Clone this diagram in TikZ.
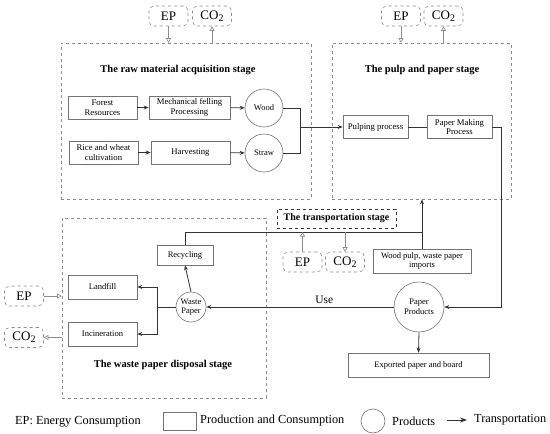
\documentclass[tikz,border=0pt]{standalone}
\usepackage{fontspec}
\setmainfont{Liberation Serif}
\usetikzlibrary{arrows.meta}
\definecolor{dgray}{gray}{0.55}
\definecolor{bgray}{gray}{0.45}
\definecolor{lcol}{gray}{0.2}
\newcommand{\cotwo}{CO{\raisebox{-0.3ex}{\fontsize{10}{10}\selectfont 2}}}
\tikzset{
  stagebox/.style={draw=dgray, dashed, line width=0.6pt, inner sep=0pt},
  proc/.style={draw=bgray, line width=0.6pt, align=center, inner sep=1pt, font=\fontsize{8.7}{9.6}\selectfont},
  sproc/.style={proc, font=\fontsize{8.5}{9.6}\selectfont},
  prod/.style={draw=bgray, line width=0.6pt, circle, align=center, inner sep=0pt, font=\fontsize{8.5}{9.6}\selectfont},
  emis/.style={draw=dgray, dashed, rounded corners=5pt, line width=0.6pt, minimum width=39pt, minimum height=20pt, inner sep=0pt, font=\fontsize{13}{14}\selectfont},
  title/.style={font=\bfseries\fontsize{10.5}{12}\selectfont},
  conn/.style={draw=lcol, line width=0.8pt},
  arr/.style={conn, -{Stealth[length=5pt,width=4pt]}},
  oarr/.style={draw=dgray, line width=0.6pt, -{Triangle[open,length=4.5pt,width=5pt]}},
  leg/.style={font=\fontsize{12.3}{14}\selectfont, anchor=west, inner sep=0pt}
}
\begin{document}
\begin{tikzpicture}[x=1pt,y=-1pt]
\useasboundingbox (0,0) rectangle (550,434);
% stage boxes
\node[stagebox, minimum width=250pt, minimum height=156pt] (raw) at (186,121) {};
\node[stagebox, minimum width=179pt, minimum height=156pt] (pulp) at (421.5,121) {};
\node[stagebox, minimum width=204pt, minimum height=180pt] (wst) at (164,308) {};
\node[title] (rawt) at (178,70) {The raw material acquisition stage};
\node[title] (pulpt) at (422,70) {The pulp and paper stage};
\node[title] (wstt) at (163,365) {The waste paper disposal stage};
\node[draw=lcol, dashed, line width=0.7pt, minimum width=119pt, minimum height=19pt, inner sep=0pt, font=\bfseries\fontsize{10}{11}\selectfont] (trans) at (336.5,218.5) {The transportation stage};
% raw material
\node[proc, minimum width=69pt, minimum height=23pt] (forest) at (102.5,107.5) {Forest\\Resources};
\node[proc, minimum width=81pt, minimum height=23pt] (mech) at (189.5,107.5) {Mechanical felling\\Processing};
\node[prod, minimum size=38pt] (wood) at (264,108) {Wood};
\node[proc, minimum width=69pt, minimum height=23pt] (rice) at (103.5,152.5) {Rice and wheat\\cultivation};
\node[proc, minimum width=79pt, minimum height=23pt] (harv) at (190.5,152.5) {Harvesting};
\node[prod, minimum size=38pt] (straw) at (264,153) {Straw};
% pulp and paper
\node[proc, minimum width=65pt, minimum height=23pt] (pulping) at (375.5,127) {Pulping process};
\node[proc, minimum width=65pt, minimum height=23pt] (making) at (459.5,127) {Paper Making\\Process};
% middle
\node[sproc, minimum width=98pt, minimum height=24pt] (wpimp) at (422,261) {Wood pulp, waste paper\\imports};
\node[prod, minimum size=50pt] (pprod) at (419,307) {Paper\\Products};
\node[sproc, minimum width=141pt, minimum height=24pt] (export) at (418.5,365) {Exported paper and board};
% waste
\node[sproc, minimum width=56pt, minimum height=20pt] (recyc) at (185,255) {Recycling};
\node[sproc, minimum width=69pt, minimum height=24pt] (landfill) at (102.5,287) {Landfill};
\node[sproc, minimum width=69pt, minimum height=24pt] (incin) at (102.5,334) {Incineration};
\node[prod, minimum size=30pt] (waste) at (191,307) {Waste\\Paper};
% emissions
\node[emis] (ep1) at (168.5,16) {EP};
\node[emis] (co1) at (212,16) {\cotwo};
\node[emis] (ep2) at (401,16) {EP};
\node[emis] (co2) at (443.5,16) {\cotwo};
\node[emis] (ep3) at (302.5,262) {EP};
\node[emis] (co3) at (345,262) {\cotwo};
\node[emis] (ep4) at (24,296) {EP};
\node[emis] (co4) at (24,337.5) {\cotwo};
% coordinates
\coordinate (j1) at (300,127);
\coordinate (c1) at (501,127);
\coordinate (c2) at (422,232);
\coordinate (c3) at (157,307);
% raw connectors
\draw[arr] (forest) -- (mech);
\draw[arr] (mech) -- (wood);
\draw[arr] (rice) -- (harv);
\draw[arr] (harv) -- (straw);
\draw[conn] (wood.east) -| (j1);
\draw[conn] (straw.east) -| (j1);
\draw[arr] (j1) -- (pulping.west);
\draw[conn] (pulping) -- (making);
\draw[arr] (making.east) -- (c1) |- (pprod.east);
\draw[arr] (wpimp.north) -- (wpimp.north |- pulp.south);
\draw[conn] (recyc.north) |- (c2);
\draw[arr] (pprod.west) -- node[pos=0.37, above=0pt, font=\fontsize{11.5}{12}\selectfont] (use) {Use} (waste.east);
\draw[arr] (pprod.south) -- (export.north);
\draw[arr] (waste.north) -- (recyc.south);
\draw[conn] (waste.west) -- (c3);
\draw[arr] (c3) |- (landfill.east);
\draw[arr] (c3) |- (incin.east);
% emission arrows
\draw[oarr] (ep1.south) -- (ep1.south |- raw.north);
\draw[oarr] (co1.south |- raw.north) -- (co1.south);
\draw[oarr] (ep2.south) -- (ep2.south |- pulp.north);
\draw[oarr] (co2.south |- pulp.north) -- (co2.south);
\draw[oarr] (ep3.north) -- (ep3.north |- c2);
\draw[oarr] (co3.north |- c2) -- (co3.north);
\draw[oarr] (ep4.east) -- (ep4.east -| wst.west);
\draw[oarr] (co4.east -| wst.west) -- (co4.east);
% legend
\node[leg] (l1) at (15,422) {EP: Energy Consumption};
\node[draw=bgray, line width=0.6pt, minimum width=33pt, minimum height=18pt, inner sep=0pt] (lbox) at (179.5,421) {};
\node[leg] (l2) at (200,421) {Production and Consumption};
\node[draw=bgray, line width=0.6pt, circle, minimum size=24pt, inner sep=0pt] (lcirc) at (373,421) {};
\node[leg] (l3) at (392,421) {Products};
\coordinate (la) at (447,420);
\coordinate (lb) at (467,420);
\draw[conn, -{Stealth[length=7pt,width=5pt]}] (la) -- (lb);
\node[leg] (l4) at (474,420) {Transportation};
\end{tikzpicture}
\end{document}
